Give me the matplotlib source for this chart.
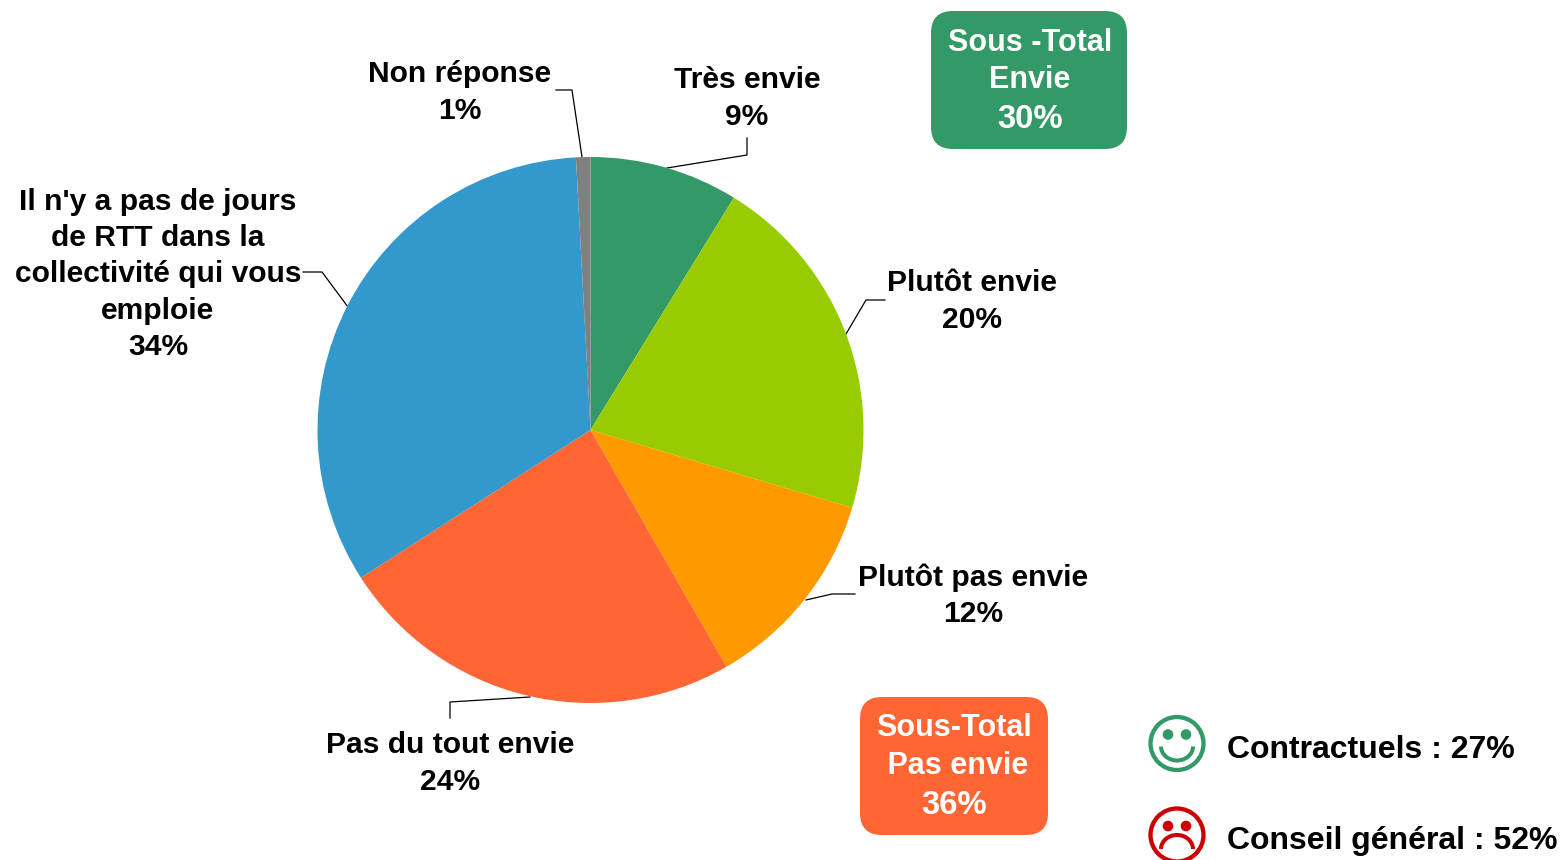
import matplotlib
matplotlib.use("Agg")
import matplotlib.pyplot as plt
from matplotlib.patches import FancyBboxPatch, Circle, Arc

plt.rcParams["font.family"] = ["Liberation Sans", "DejaVu Sans"]

W, H = 1563, 860

categories = ["Très envie", "Plutôt envie", "Plutôt pas envie", "Pas du tout envie",
              "Il n'y a pas de jours\nde RTT dans la\ncollectivité qui vous\nemploie", "Non réponse"]
values = [8.8, 20.8, 12.1, 24.2, 33.25, 0.85]
percent_labels = ["9%", "20%", "12%", "24%", "34%", "1%"]
colors = ["#339966", "#99CC00", "#FF9900", "#FF6633", "#3399CC", "#808080"]

label_pos = [(747, 97), (972, 300), (973, 594), (450, 762), (158, 273), (460, 91)]
leader_lines = [
    [(667, 168), (747, 155), (747, 138)],
    [(846, 334), (866, 300), (885, 300)],
    [(806, 600), (832, 594), (855, 594)],
    [(530, 697), (450, 702), (450, 718)],
    [(348, 307), (322, 272), (303, 272)],
    [(582, 157), (572, 90), (556, 90)],
]

fig = plt.figure(figsize=(W / 100, H / 100), dpi=100)
ax = fig.add_axes([0, 0, 1, 1])
ax.set_xlim(0, W)
ax.set_ylim(H, 0)
ax.axis("off")

# pie is drawn in its own square axes so it keeps the library's scale
cx, cy, r = 590.5, 430, 273
pie_ax = fig.add_axes([(cx - r) / W, 1 - (cy + r) / H, 2 * r / W, 2 * r / H])
pie_ax.pie(values, colors=colors, startangle=90, counterclock=False, radius=1,
           wedgeprops={"linewidth": 0})
pie_ax.set_xlim(-1, 1)
pie_ax.set_ylim(-1, 1)

for cat, pct, (x, y) in zip(categories, percent_labels, label_pos):
    ax.text(x, y + 1.5, cat + "\n" + pct, ha="center", va="center", fontsize=21.6,
            fontweight="bold", linespacing=1.38, color="black", zorder=5)

for line in leader_lines:
    ax.plot([p[0] for p in line], [p[1] for p in line], color="black", lw=0.9, zorder=4)


def subtotal(x0, y0, x1, y1, color, lines, xc):
    box = FancyBboxPatch((x0 + 22, y0 + 22), x1 - x0 - 44, y1 - y0 - 44,
                         boxstyle="round,pad=22,rounding_size=22", fc=color, ec="none")
    ax.add_patch(box)
    for text, yt, size in lines:
        ax.text(xc, yt, text, color="white", ha="center", va="center",
                fontsize=size, fontweight="bold")


subtotal(931, 11, 1127, 149, "#339966",
         [("Sous -Total", 43, 22), ("Envie", 80, 22), ("30%", 119, 23.6)], 1030)
subtotal(860, 697, 1048, 835, "#FF6633",
         [("Sous-Total", 728, 22), (" Pas envie", 766, 22), ("36%", 805, 23.6)], 954)


def smiley(x, y, color, happy):
    ax.add_patch(Circle((x, y), 26.5, fc="white", ec=color, lw=3.1))
    for dx in (-9, 9):
        ax.add_patch(Circle((x + dx, y - 9), 5.3, fc=color, ec="none"))
    if happy:
        # y axis is flipped, so this arc bulges downward
        ax.add_patch(Arc((x, y + 3), 32, 28, theta1=0, theta2=180, color=color, lw=2.9))
    else:
        ax.add_patch(Arc((x, y + 14), 32, 28, theta1=180, theta2=360, color=color, lw=2.9))


smiley(1177, 743.5, "#339966", True)
smiley(1177, 835, "#CC0000", False)

ax.text(1227, 750, "Contractuels : 27%", fontsize=23, fontweight="bold", va="center", color="black")
ax.text(1227, 841, "Conseil général : 52%", fontsize=23, fontweight="bold", va="center", color="black")

fig.savefig("out.png", dpi=100)
